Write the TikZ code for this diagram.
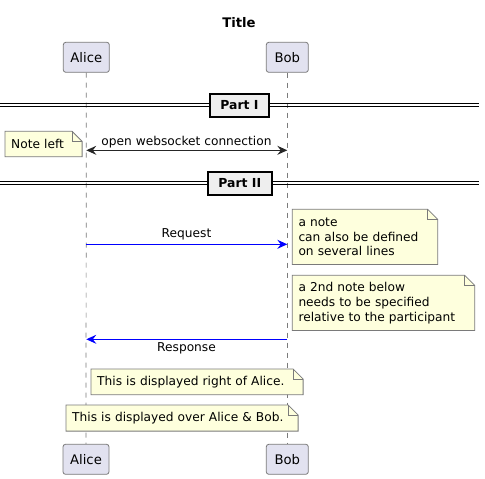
\documentclass[tikz,border=0pt]{standalone}
\usepackage{fontspec}
\setmainfont{DejaVu Sans}
\usetikzlibrary{arrows.meta}
\definecolor{partfill}{HTML}{E2E2F0}
\definecolor{notefill}{HTML}{FEFFDD}
\definecolor{sepfill}{HTML}{EEEEEE}
\definecolor{edgegray}{HTML}{7A7A7A}
\definecolor{msgblue}{HTML}{0000FF}
\tikzset{
  participant/.style={draw=edgegray, line width=0.8pt, fill=partfill, rounded corners=2.5pt,
    minimum height=30pt, inner sep=0pt, font=\fontsize{13.2}{15}\selectfont},
  lifeline/.style={draw=edgegray, line width=0.7pt, dash pattern=on 5pt off 5pt},
  notebody/.style={inner xsep=6pt, inner ysep=0pt, align=left, anchor=north west,
    font=\fontsize{12.2}{14.8}\selectfont},
  noteshape/.style={draw=edgegray, line width=0.8pt, fill=notefill},
  sepbox/.style={draw=black, line width=2pt, fill=sepfill, inner sep=0pt,
    minimum height=23pt, font=\bfseries\fontsize{12.4}{14}\selectfont},
  sepline/.style={draw=black, line width=1pt},
  msg/.style={line width=1pt, -{Stealth[length=10pt,width=9pt,inset=3.5pt]}},
  dmsg/.style={line width=1pt, {Stealth[length=10pt,width=9pt,inset=3.5pt]}-{Stealth[length=10pt,width=9pt,inset=3.5pt]}, draw={black!85}},
  msglabel/.style={inner sep=0pt, font=\fontsize{12.2}{14}\selectfont},
}
\newcommand{\notefold}[1]{%
  \path[noteshape] (#1.north west) -- ([xshift=-10pt]#1.north east) -- ([yshift=-10pt]#1.north east)
    -- (#1.south east) -- (#1.south west) -- cycle;
  \draw[edgegray, line width=0.8pt] ([xshift=-10pt]#1.north east) -- ([xshift=-10pt,yshift=-10pt]#1.north east)
    -- ([yshift=-10pt]#1.north east);
}
\begin{document}
\begin{tikzpicture}[x=1pt,y=-1pt]
\useasboundingbox[fill=white] (0,0) rectangle (485,479);

% title
\node[font=\bfseries\fontsize{13.2}{15}\selectfont] (title) at (239,23) {Title};

% participants
\node[participant, minimum width=46pt] (aliceT) at (86.3,57.3) {Alice};
\node[participant, minimum width=42pt] (bobT) at (287.3,57.3) {Bob};
\node[participant, minimum width=46pt] (aliceB) at (86,459.3) {Alice};
\node[participant, minimum width=42pt] (bobB) at (287.3,459.3) {Bob};

% lifelines
\draw[lifeline] (aliceT.south) -- (aliceB.north);
\draw[lifeline] (bobT.south) -- (bobB.north);

% Part I
\coordinate (s1l) at (0,103.6);
\coordinate (s1r) at (479,103.6);
\coordinate (s1l2) at (0,106.6);
\coordinate (s1r2) at (479,106.6);
\draw[sepline] (s1l) -- (s1r);
\draw[sepline] (s1l2) -- (s1r2);
\node[sepbox, minimum width=59.6pt] (part1) at (239.5,105) {Part I};

% websocket
\coordinate (a1) at (86.3,150.3);
\coordinate (b1) at (287.3,150.3);
\draw[dmsg] (a1) -- (b1);
\node[msglabel] (l1) at (186.5,142) {open websocket connection};

% note left
\node[notebody, text width=64.7pt, minimum height=25pt] (nleft) at (5,131.3) {Note left};
\notefold{nleft}
\node[notebody, text width=64.7pt, minimum height=25pt] at (5,131.3) {Note left};

% Part II
\coordinate (s2l) at (0,181.6);
\coordinate (s2r) at (479,181.6);
\coordinate (s2l2) at (0,184.6);
\coordinate (s2r2) at (479,184.6);
\draw[sepline] (s2l) -- (s2r);
\draw[sepline] (s2l2) -- (s2r2);
\node[sepbox, minimum width=64.3pt] (part2) at (239.8,183) {Part II};

% Request
\coordinate (a2) at (86.3,244.3);
\coordinate (b2) at (287.3,244.3);
\draw[msg, draw=msgblue] (a2) -- (b2);
\node[msglabel] (l2) at (186.5,234.5) {Request};

% note 1
\node[notebody, text width=133pt, minimum height=54.7pt] (n1) at (292.3,209.3) {a note\\can also be defined\\on several lines};
\notefold{n1}
\node[notebody, text width=133pt, minimum height=54.7pt] at (292.3,209.3) {a note\\can also be defined\\on several lines};

% note 2
\node[notebody, text width=170pt, minimum height=54.7pt] (n2) at (292.3,275.3) {a 2nd note below\\needs to be specified\\relative to the participant};
\notefold{n2}
\node[notebody, text width=170pt, minimum height=54.7pt] at (292.3,275.3) {a 2nd note below\\needs to be specified\\relative to the participant};

% Response
\coordinate (b3) at (287.3,339.3);
\coordinate (a3) at (86.3,339.3);
\draw[msg, draw=msgblue] (b3) -- (a3);
\node[msglabel] (l3) at (186.5,348.5) {Response};

% note right of Alice
\node[notebody, text width=199.7pt, minimum height=25.3pt] (n3) at (91,369) {This is displayed right of Alice.};
\notefold{n3}
\node[notebody, text width=199.7pt, minimum height=25.3pt] at (91,369) {This is displayed right of Alice.};

% note over
\node[notebody, text width=219.7pt, minimum height=25.7pt] (n4) at (66,405) {This is displayed over Alice \& Bob.};
\notefold{n4}
\node[notebody, text width=219.7pt, minimum height=25.7pt] at (66,405) {This is displayed over Alice \& Bob.};
\end{tikzpicture}
\end{document}
